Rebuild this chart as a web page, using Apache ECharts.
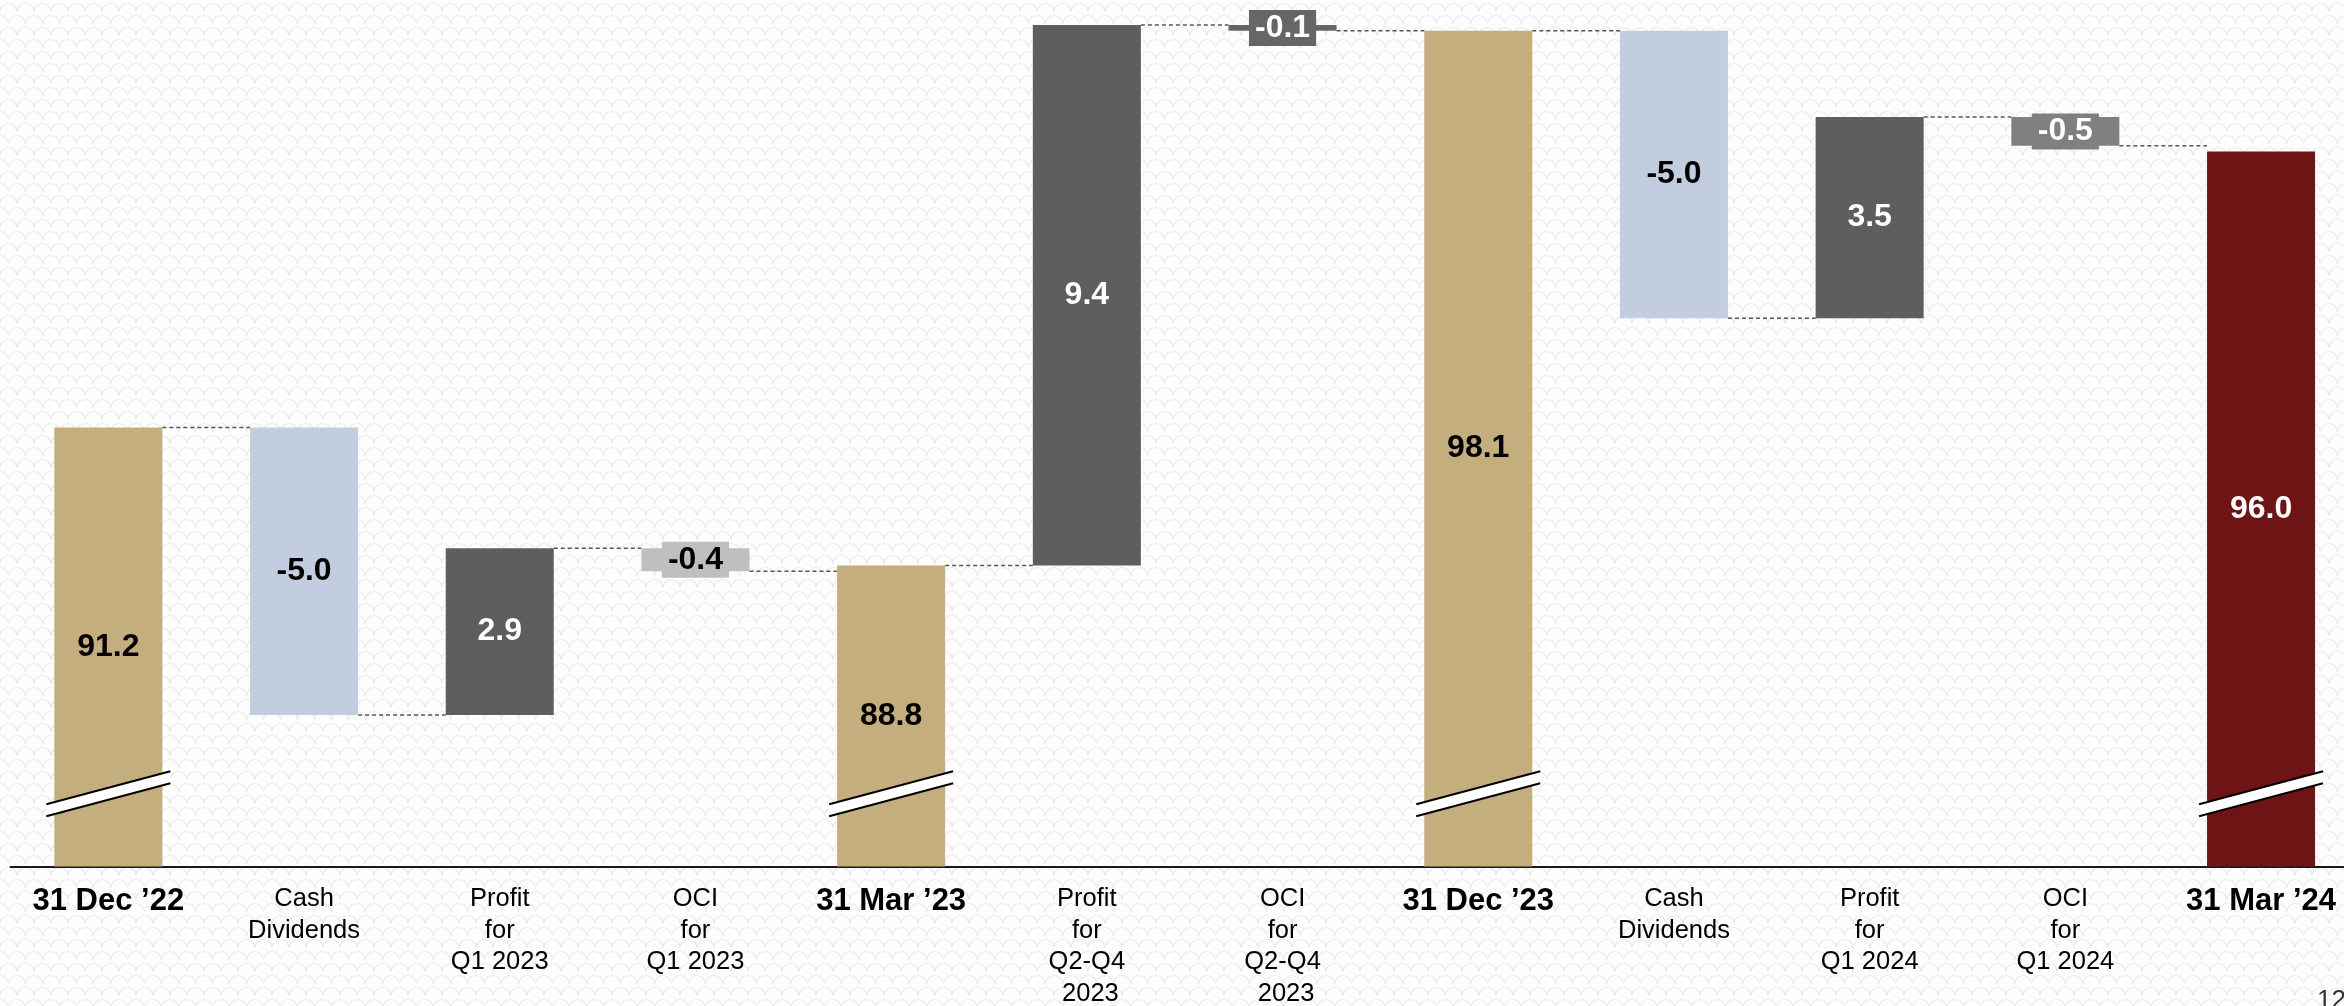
<!DOCTYPE html>
<html>
<head>
<meta charset="utf-8">
<script src="https://cdn.jsdelivr.net/npm/echarts@6/dist/echarts.min.js"></script>
<style>
  html, body { margin: 0; padding: 0; background: #fff; }
  #chart { width: 2344px; height: 1006px; }
</style>
</head>
<body>
<div id="chart"></div>
<script>
// ---------------- data ----------------
const categories = [
  '31 Dec ’22', 'Cash\nDividends', 'Profit\nfor\nQ1 2023', 'OCI\nfor\nQ1 2023',
  '31 Mar ’23', 'Profit\nfor\nQ2-Q4\n 2023', 'OCI\nfor\nQ2-Q4\n 2023',
  '31 Dec ’23', 'Cash\nDividends', 'Profit\nfor\nQ1 2024', 'OCI\nfor\nQ1 2024',
  '31 Mar ’24'
];
const values  = [91.2, -5.0, 2.9, -0.4, 88.8, 9.4, -0.1, 98.1, -5.0, 3.5, -0.5, 96.0];
const isTotal = [true, false, false, false, true, false, false, true, false, false, false, true];
const pageNumber = '12';

// ---------------- styles ----------------
const barColors   = ['#C5AE7E', '#C2CDE0', '#5E5E5E', '#BFBFBF', '#C5AE7E', '#5E5E5E',
                     '#666666', '#C5AE7E', '#C2CDE0', '#5E5E5E', '#808080', '#6E1414'];
const labelColors = ['#000', '#000', '#fff', '#000', '#000', '#fff',
                     '#fff', '#000', '#000', '#fff', '#fff', '#fff'];
const boxedLabel  = [false, false, false, true, false, false, true, false, false, false, true, false];

const Y_MIN = 83.565, Y_MAX = 98.635;   // broken axis range
const BREAK_VALUE = 84.83;              // where the break marks sit
const BAR_RATIO = 0.552;
const FONT = '"Liberation Sans", Arial, Helvetica, sans-serif';

// background texture
(function () {
  const t = document.createElement('canvas');
  t.width = 17; t.height = 24;
  const c = t.getContext('2d');
  c.fillStyle = '#fdfdfd'; c.fillRect(0, 0, 17, 24);
  c.strokeStyle = '#e9e9e9'; c.lineWidth = 1.1;
  [[8.5, 12], [0, 24], [17, 24]].forEach(([x, y]) => {
    c.beginPath(); c.arc(x, y, 8.5, Math.PI, 2 * Math.PI); c.stroke();
  });
  document.getElementById('chart').style.background = 'url(' + t.toDataURL() + ')';
})();

// waterfall segments built from data
const segs = [];
const links = [];
let level = null;
values.forEach((v, i) => {
  let s, e;
  if (isTotal[i]) { s = Y_MIN; e = v; }
  else { s = level; e = level + v; }
  segs.push([i, s, e]);
  level = e;
  if (i < values.length - 1) links.push([i, e]);
});

function renderBar(params, api) {
  const i = api.value(0), s = api.value(1), e = api.value(2);
  const p0 = api.coord([i, s]), p1 = api.coord([i, e]);
  const bw = api.size([1, 0])[0] * BAR_RATIO;
  const x = p0[0] - bw / 2;
  const children = [{
    type: 'rect',
    shape: { x: x, y: Math.min(p0[1], p1[1]), width: bw, height: Math.abs(p1[1] - p0[1]) },
    style: { fill: barColors[i] }
  }];
  if (isTotal[i]) {
    const yb = api.coord([i, BREAK_VALUE])[1];
    const xl = x - 8, xr = x + bw + 8, sl = 16.5, g = 6;
    children.push({
      type: 'polygon',
      shape: { points: [[xl, yb + sl - g], [xr, yb - sl - g], [xr, yb - sl + g], [xl, yb + sl + g]] },
      style: { fill: '#ffffff' }
    });
    children.push({ type: 'line', shape: { x1: xl, y1: yb + sl - g, x2: xr, y2: yb - sl - g },
      style: { stroke: '#000', lineWidth: 2 } });
    children.push({ type: 'line', shape: { x1: xl, y1: yb + sl + g, x2: xr, y2: yb - sl + g },
      style: { stroke: '#000', lineWidth: 2 } });
  }
  children.push({
    type: 'text',
    z2: 10,
    style: {
      text: values[i].toFixed(1),
      x: p0[0], y: (p0[1] + p1[1]) / 2,
      align: 'center', verticalAlign: 'middle',
      font: 'bold 32px ' + FONT,
      fill: labelColors[i],
      lineHeight: 32,
      backgroundColor: boxedLabel[i] ? barColors[i] : 'transparent',
      padding: boxedLabel[i] ? [2, 6] : 0
    }
  });
  return { type: 'group', children: children };
}

function renderLink(params, api) {
  const i = api.value(0), v = api.value(1);
  const bw = api.size([1, 0])[0] * BAR_RATIO;
  const a = api.coord([i, v]), b = api.coord([i + 1, v]);
  return {
    type: 'line',
    shape: { x1: a[0] + bw / 2, y1: a[1], x2: b[0] - bw / 2, y2: b[1] },
    style: { stroke: '#555', lineWidth: 1.4, lineDash: [4, 3] }
  };
}

const chart = echarts.init(document.getElementById('chart'), null, { renderer: 'canvas' });
chart.setOption({
  animation: false,
  backgroundColor: 'transparent',
  grid: { left: 10.5, top: 0, width: 2348.4, height: 866.5, containLabel: false, outerBoundsMode: 'none' },
  xAxis: {
    type: 'category',
    data: categories,
    axisLine: { onZero: false, lineStyle: { color: '#1a1a1a', width: 2 } },
    axisTick: { show: false },
    axisLabel: {
      interval: 0,
      margin: 17,
      color: '#000',
      fontFamily: FONT,
      hideOverlap: false,
      formatter: function (val, idx) {
        if (isTotal[idx]) return '{b|' + val + '}';
        return val.split('\n').map(l => '{n|' + l + '}').join('\n');
      },
      rich: {
        b: { fontSize: 31, fontWeight: 'bold', lineHeight: 36, fontFamily: FONT, color: '#000' },
        n: { fontSize: 25.5, lineHeight: 31.5, fontFamily: FONT, color: '#000' }
      }
    }
  },
  yAxis: { type: 'value', min: Y_MIN, max: Y_MAX, show: false, splitLine: { show: false } },
  series: [
    { type: 'custom', renderItem: renderLink, data: links, z: 1, clip: false },
    { type: 'custom', renderItem: renderBar, data: segs, z: 2, clip: false }
  ],
  graphic: [{
    type: 'text', left: 2317, top: 988,
    style: { text: pageNumber, font: '26px ' + FONT, fill: '#333' }
  }]
});
</script>
</body>
</html>
